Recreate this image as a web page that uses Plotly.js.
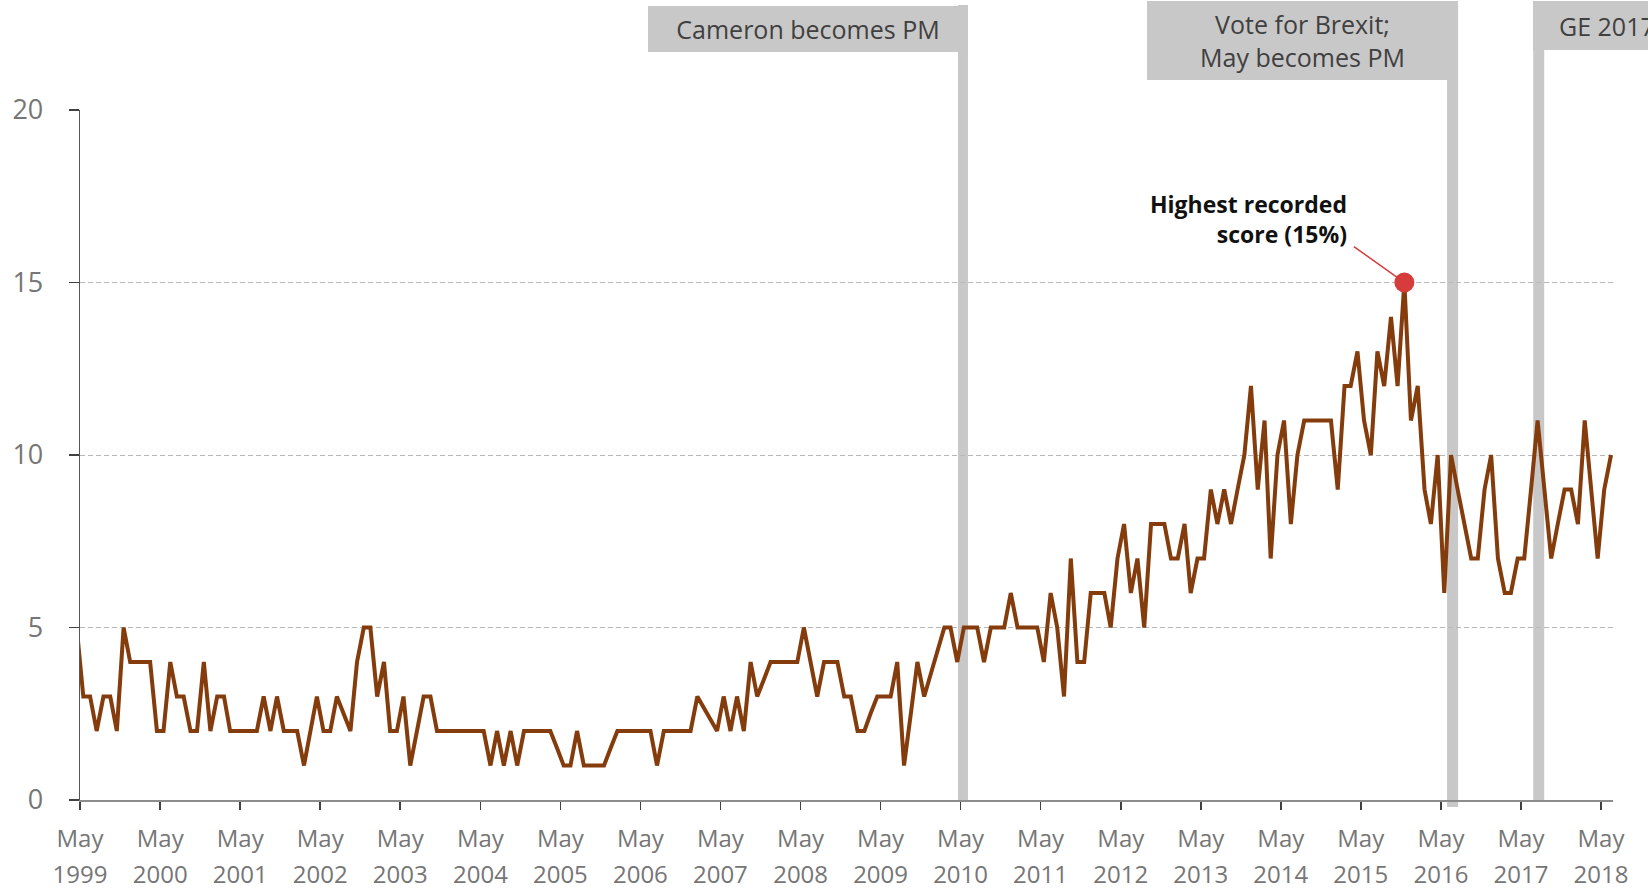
<!DOCTYPE html>
<html>
<head>
<meta charset="utf-8">
<script src="https://cdn.plot.ly/plotly-3.0.1.min.js"></script>
<style>
html, body { margin: 0; padding: 0; background: #ffffff; }
#chart { width: 1648px; height: 889px; }
</style>
</head>
<body>
<div id="chart"></div>
<script>
// ---- data (monthly readings, first reading April 1999) ----
const firstYear = 1999;
const firstMonth = 4;
const scores = [
  5,
  3, 3, 2, 3, 3, 2, 5, 4, 4, 4, 4, 2,
  2, 4, 3, 3, 2, 2, 4, 2, 3, 3, 2, 2,
  2, 2, 2, 3, 2, 3, 2, 2, 2, 1, 2, 3,
  2, 2, 3, 2.5, 2, 4, 5, 5, 3, 4, 2, 2,
  3, 1, 2, 3, 3, 2, 2, 2, 2, 2, 2, 2,
  2, 1, 2, 1, 2, 1, 2, 2, 2, 2, 2, 1.5,
  1, 1, 2, 1, 1, 1, 1, 1.5, 2, 2, 2, 2,
  2, 2, 1, 2, 2, 2, 2, 2, 3, 2.67, 2.33, 2,
  3, 2, 3, 2, 4, 3, 3.5, 4, 4, 4, 4, 4,
  5, 4, 3, 4, 4, 4, 3, 3, 2, 2, 2.5, 3,
  3, 3, 4, 1, 2.5, 4, 3, 3.67, 4.33, 5, 5, 4,
  5, 5, 5, 4, 5, 5, 5, 6, 5, 5, 5, 5,
  4, 6, 5, 3, 7, 4, 4, 6, 6, 6, 5, 7,
  8, 6, 7, 5, 8, 8, 8, 7, 7, 8, 6, 7,
  7, 9, 8, 9, 8, 9, 10, 12, 9, 11, 7, 10,
  11, 8, 10, 11, 11, 11, 11, 11, 9, 12, 12, 13,
  11, 10, 13, 12, 14, 12, 15, 11, 12, 9, 8, 10,
  6, 10, 9, 8, 7, 7, 9, 10, 7, 6, 6, 7,
  7, 9, 11, 9, 7, 8, 9, 9, 8, 11, 9, 7,
  9, 10
];
const eventLabels = ["Cameron becomes PM", "Vote for Brexit;<br>May becomes PM", "GE 2017"];
const eventDates = ["2010-05-12", "2016-06-23", "2017-07-21"];
const yTickValues = [0, 5, 10, 15, 20];
const xRange = ["1999-05-01", "2018-06-25"];
const xTickStart = "1999-05-01";
const peakLabel = "<b>Highest recorded<br>score (15%)</b>";

// month dates (mid-month) for each reading
const months = scores.map((_, i) => {
  const t = firstMonth - 1 + i;
  const yr = firstYear + Math.floor(t / 12);
  const mo = (t % 12) + 1;
  return yr + "-" + String(mo).padStart(2, "0") + "-16";
});

let peakIdx = 0;
scores.forEach((v, i) => { if (v > scores[peakIdx]) peakIdx = i; });

// plot geometry helpers (decoration placement only)
const plotTopPx = 110, plotBottomPx = 800, plotH = plotBottomPx - plotTopPx;
const pxToPaper = py => (plotBottomPx - py) / plotH;

const FONT = "Open Sans, Noto Sans, DejaVu Sans, sans-serif";
const LINE = "#843c0c";
const BAR = "#c8c8c8";
const RED = "#d83b3b";
const TICKGREY = "#767676";

const traces = [
  {
    type: "scatter", mode: "lines",
    x: months, y: scores,
    line: { color: LINE, width: 4 },
    connectgaps: true,
    hoverinfo: "skip", showlegend: false
  },
  {
    type: "scatter", mode: "markers",
    x: [months[peakIdx]], y: [scores[peakIdx]],
    marker: { color: RED, size: 20 },
    hoverinfo: "skip", showlegend: false
  },
  {
    // carrier for the year row of the x axis
    type: "scatter", mode: "lines",
    x: [months[1]], y: [null], xaxis: "x2", yaxis: "y",
    hoverinfo: "skip", showlegend: false
  }
];

const barBottoms = [-1, -7, -1];
const barHalf = [5, 5.5, 5.5];
const shapes = eventDates.map((d, i) => ({
  type: "rect", xref: "x", yref: "paper",
  xsizemode: "pixel", xanchor: d, x0: -barHalf[i], x1: barHalf[i],
  ysizemode: "pixel", yanchor: 0, y0: barBottoms[i], y1: 795,
  fillcolor: BAR, line: { width: 0 }, layer: "below"
}));

const boxFont = { family: FONT, size: 25, color: "#404040" };
const annotations = [
  {
    xref: "x", yref: "paper", x: eventDates[0], xanchor: "right", xshift: barHalf[0],
    y: pxToPaper(6), yanchor: "top",
    text: eventLabels[0], showarrow: false,
    width: 320, height: 46, bgcolor: BAR, borderpad: 0, borderwidth: 0,
    align: "center", valign: "middle", font: boxFont
  },
  {
    xref: "x", yref: "paper", x: eventDates[1], xanchor: "right", xshift: barHalf[1],
    y: pxToPaper(1), yanchor: "top",
    text: eventLabels[1], showarrow: false,
    width: 311, height: 79, bgcolor: BAR, borderpad: 0, borderwidth: 0,
    align: "center", valign: "middle", font: boxFont
  },
  {
    xref: "x", yref: "paper", x: eventDates[2], xanchor: "left", xshift: -barHalf[2],
    y: pxToPaper(1), yanchor: "top",
    text: "\u00a0\u00a0\u00a0\u00a0" + eventLabels[2], showarrow: false,
    width: 170, height: 49, bgcolor: BAR, borderpad: 0, borderwidth: 0,
    align: "left", valign: "middle", font: boxFont
  },
  {
    xref: "x", yref: "y", x: months[peakIdx], y: scores[peakIdx],
    xanchor: "right", yanchor: "bottom", xshift: -56, yshift: 32,
    text: peakLabel, showarrow: false, align: "right", borderpad: 0,
    font: { family: FONT, size: 23, color: "#111111" }
  },
  {
    xref: "x", yref: "y", x: months[peakIdx], y: scores[peakIdx],
    text: " ", font: { size: 1 },
    showarrow: true, arrowhead: 0, arrowwidth: 1.5, arrowcolor: RED,
    ax: -52, ay: -37, standoff: 8
  }
];

const layout = {
  width: 1648, height: 889,
  margin: { l: 80, r: 35, t: plotTopPx, b: 889 - plotBottomPx, pad: 0 },
  paper_bgcolor: "#ffffff", plot_bgcolor: "#ffffff",
  font: { family: FONT, color: TICKGREY },
  showlegend: false,
  xaxis: {
    type: "date",
    range: xRange,
    tick0: xTickStart, dtick: "M12",
    tickformat: "%b",
    ticks: "outside", ticklen: 8, tickwidth: 1.5, tickcolor: "#404040",
    ticklabelstandoff: 8,
    showgrid: false, zeroline: false,
    showline: true, linecolor: "#8c8c8c", linewidth: 2,
    tickfont: { family: FONT, size: 24, color: TICKGREY },
    fixedrange: true
  },
  xaxis2: {
    type: "date",
    overlaying: "x", anchor: "y", side: "bottom",
    range: xRange,
    tick0: xTickStart, dtick: "M12",
    tickformat: "%Y",
    ticks: "", showline: false, showgrid: false, zeroline: false,
    ticklabelstandoff: 58,
    tickfont: { family: FONT, size: 24, color: TICKGREY },
    fixedrange: true
  },
  yaxis: {
    range: [0, 20],
    tickvals: yTickValues,
    ticks: "outside", ticklen: 10, tickwidth: 1.2, tickcolor: "#404040",
    showgrid: true, gridcolor: "#b8b8b8", gridwidth: 1, griddash: "5px,3px",
    zeroline: false,
    showline: true, linecolor: "#555555", linewidth: 1.3,
    tickfont: { family: FONT, size: 27, color: TICKGREY },
    ticklabelstandoff: 20,
    fixedrange: true
  },
  shapes: shapes,
  annotations: annotations
};

Plotly.newPlot("chart", traces, layout, { displayModeBar: false, staticPlot: true });
</script>
</body>
</html>
